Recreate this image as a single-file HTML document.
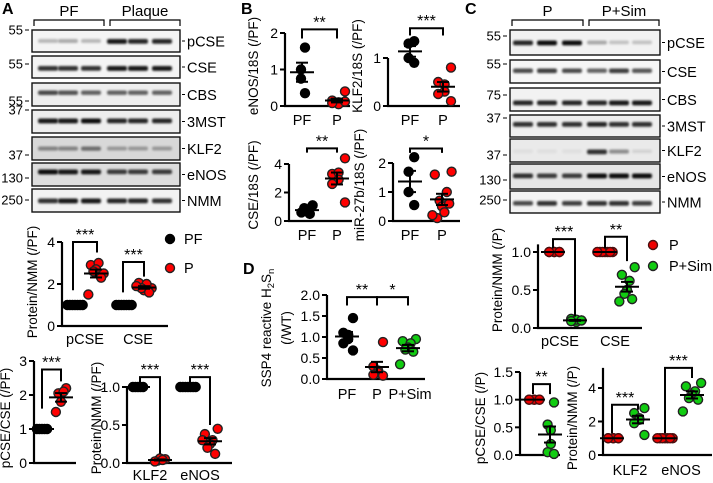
<!DOCTYPE html>
<html><head><meta charset="utf-8"><style>
body{margin:0;background:#fff;}
svg{display:block;font-family:"Liberation Sans",sans-serif;}
</style></head><body>
<svg id="fig" width="713" height="483" viewBox="0 0 713 483" xmlns="http://www.w3.org/2000/svg">
<defs><filter id="blur" x="-20%" y="-50%" width="140%" height="200%"><feGaussianBlur stdDeviation="1.0"/></filter></defs>
</svg>
<script>
// ===== Data =====
const blotRowsA = ['pCSE','CSE','CBS','3MST','KLF2','eNOS','NMM'];
const blotIntA = [[0.25,0.3,0.25,0.9,0.85,0.85],[0.8,0.8,0.8,0.9,0.9,0.9],[0.7,0.65,0.6,0.6,0.6,0.6],[0.9,0.9,0.95,0.85,0.85,0.85],[0.4,0.4,0.5,0.3,0.3,0.3],[0.95,0.9,0.9,0.75,0.75,0.75],[0.8,0.9,0.9,0.85,0.85,0.8]];
const blotRowsC = ['pCSE','CSE','CBS','3MST','KLF2','eNOS','NMM'];
const blotIntC = [[0.85,0.95,0.95,0.3,0.2,0.2],[0.7,0.75,0.7,0.6,0.75,0.65],[0.85,0.85,0.85,0.85,0.9,0.9],[0.8,0.8,0.8,0.85,0.8,0.8],[0.05,0.05,0.05,0.8,0.4,0.1],[0.8,0.75,0.75,0.95,0.95,0.95],[0.7,0.8,0.75,0.8,0.8,0.75]];

const a1Cats = ['pCSE','CSE'];
const a1Ticks = [0,2,4];
const a1PF = [[1,1,1,1,1,1,1],[1,1,1,1,1,1,1]];
const a1P = [[2.5,2.9,3.0,2.7,2.6,2.3,1.5],[1.8,2.05,2.0,1.7,1.8,1.6,1.9]];

const a2Cats = ['PF','P'];
const a2Ticks = [0,1,2,3];
const a2PF = [1,1,1,1,1];
const a2P = [2.2,2.05,1.8,2.1,1.5];

const a3Cats = ['KLF2','eNOS'];
const a3Ticks = [0,0.5,1.0];
const a3TickLabels = ['0.0','0.5','1.0'];
const a3PF = [[1,1,1,1,1],[1,1,1,1,1,1,1]];
const a3P = [[0.05,0.03,0.06,0.04,0.02],[0.45,0.38,0.3,0.25,0.2,0.12,0.3]];

const b1PF = [1.6,1.0,0.75,0.35];
const b1P = [0.4,0.15,0.1,0.05,0.08,0.12];
const b2PF = [1.35,1.3,1.0,0.9];
const b2P = [0.8,0.5,0.45,0.3,0.25,0.1];
const b3PF = [1.1,0.9,0.7,0.5,0.6];
const b3P = [4.4,3.3,3.4,2.9,2.6,1.3];
const b4PF = [2.2,1.7,1.0,0.55];
const b4P = [1.7,1.6,1.0,0.7,0.5,0.3,0.1,0.6,0.2];

const c1Cats = ['pCSE','CSE'];
const c1P = [[1,1,1,1,1,1],[1,1,1,1,1,1,1]];
const c1Sim = [[0.1,0.12,0.08,0.11,0.09,0.1],[0.8,0.7,0.62,0.5,0.45,0.38,0.35]];
const c2P = [1,1,1,1,1,1];
const c2Sim = [0.95,0.55,0.45,0.2,0.05,0.02];
const c3Cats = ['KLF2','eNOS'];
const c3P = [[1,1,1,1,1,1],[1,1,1,1,1,1,1]];
const c3Sim = [[2.8,2.5,2.2,2.1,1.9,1.2],[4.3,4.1,3.8,3.6,3.4,3.3,2.6]];

const dCats = ['PF','P','P+Sim'];
const dPF = [1.45,1.1,1.05,0.95,0.85,0.68];
const dP = [0.88,0.3,0.2,0.15,0.1,0.08];
const dSim = [0.95,0.9,0.85,0.75,0.7,0.65,0.35];

// ===== Helpers =====
const NS='http://www.w3.org/2000/svg';
const svg=document.getElementById('fig');
function mk(tag, attrs, parent){const e=document.createElementNS(NS,tag);for(const k in attrs)e.setAttribute(k,attrs[k]);(parent||svg).appendChild(e);return e;}
function txt(s,x,y,size,anchor,parent,extra){const t=mk('text',Object.assign({x:x,y:y,'font-size':size,'text-anchor':anchor||'middle',fill:'#000'},extra||{}),parent);t.textContent=s;return t;}
const STY={black:['#000','#000'],red:['#f00','#222'],redP:['#e00','#4a1010'],green:['#1c1','#222']};

function chart(c){
  const g=mk('g',{});
  
  
  const y=v=>c.yb-(v-c.ymin)/(c.ymax-c.ymin)*(c.yb-c.yt);
  const top=c.axisTop!==undefined?y(c.axisTop):y(c.ticks[c.ticks.length-1]);
  const ax=mk('line',{x1:c.x0,y1:top,x2:c.x0,y2:c.yb,stroke:'#000','stroke-width':2.2},g);
  
  
  const xa=mk('line',{x1:c.x0-1,y1:c.yb,x2:c.x1,y2:c.yb,stroke:'#000','stroke-width':2.2},g);
  
  
  c.ticks.forEach((t,i)=>{
    mk('line',{x1:c.x0-5,y1:y(t),x2:c.x0,y2:y(t),stroke:'#000','stroke-width':2},g);
    const tl=txt(c.tickLabels?c.tickLabels[i]:String(t),c.x0-7,y(t)+5,14,'end',g);
    
    
  });
  const yl=txt(c.ylabel,0,0,13.5,'middle',g,{transform:`translate(${c.ylx},${c.yly}) rotate(-90)`});
  
  
  c.xlabels.forEach(l=>{
    const xl=txt(l[0],l[1],c.xly,14.5,'middle',g);
    
    
  });
  c.groups.forEach(gr=>{
    const n=gr.vals.length, sty=STY[gr.kind];
    const gg=mk('g',{},g);
    
    
    const sp=gr.spread||3.2;
    gr.vals.forEach((v,i)=>{
      const dx=(i-(n-1)/2)*sp*(i%2?1:-1)*0.8;
      const p=mk('circle',{cx:gr.x+dx,cy:y(v),r:4.5,fill:sty[0],stroke:sty[1],'stroke-width':1.4},gg);
      
      
    });
    const mean=gr.vals.reduce((a,b)=>a+b,0)/n;
    const sd=Math.sqrt(gr.vals.reduce((a,b)=>a+(b-mean)*(b-mean),0)/(n-1));
    const sem=sd/Math.sqrt(n);
    const ml=mk('line',{x1:gr.x-12,y1:y(mean),x2:gr.x+12,y2:y(mean),stroke:'#000','stroke-width':2},gg);
    
    
    if(sem>0){
      mk('line',{x1:gr.x,y1:y(mean-sem),x2:gr.x,y2:y(mean+sem),stroke:'#000','stroke-width':2},gg);
      mk('line',{x1:gr.x-6,y1:y(mean+sem),x2:gr.x+6,y2:y(mean+sem),stroke:'#000','stroke-width':2},gg);
      mk('line',{x1:gr.x-6,y1:y(mean-sem),x2:gr.x+6,y2:y(mean-sem),stroke:'#000','stroke-width':2},gg);
    }
  });
  (c.brackets||[]).forEach(b=>{
    const br=mk('polyline',{points:`${b.xa},${y(b.la)} ${b.xa},${y(b.y)} ${b.xb},${y(b.y)} ${b.xb},${y(b.lb)}`,fill:'none',stroke:'#000','stroke-width':2},g);
    
    
    const st=txt(b.t,(b.xa+b.xb)/2,y(b.y)-2,16,'middle',g);
    
    
  });
}

function blot(b){
  const g=mk('g',{});
  
  
  b.rows.forEach((r,i)=>{
    const [y0,y1,bg]=b.rowY[i];
    const box=mk('rect',{x:b.x0,y:y0,width:b.x1-b.x0,height:y1-y0,fill:bg,stroke:'#111','stroke-width':1.4},g);
    
    
    const bandY=(y0+y1)/2+(b.bandOff?b.bandOff[i]:0);
    b.ints[i].forEach((v,j)=>{
      mk('rect',{x:b.lanes[j]-10,y:bandY-2,width:20,height:3.5+v*1.5,rx:2,fill:'#000','fill-opacity':v,filter:'url(#blur)'},g);
    });
    mk('line',{x1:b.x1+2,y1:(y0+y1)/2,x2:b.x1+5,y2:(y0+y1)/2,stroke:'#000','stroke-width':1},g);
    const l=txt(r,b.x1+7,(y0+y1)/2+5.5,14.5,'start',g);
    
    
  });
  b.mw.forEach(m=>{
    txt(m[0],b.x0-9,m[1]+4.5,13,'end',g);
    mk('line',{x1:b.x0-7,y1:m[1],x2:b.x0-3,y2:m[1],stroke:'#000','stroke-width':1},g);
  });
  b.heads.forEach(h=>{
    mk('polyline',{points:`${h[1]},26 ${h[1]},20 ${h[2]},20 ${h[2]},26`,fill:'none',stroke:'#000','stroke-width':1.2},g);
    txt(h[0],(h[1]+h[2])/2,16,15,'middle',g);
  });
}

// ===== Panel letters =====
[['A',2,14],['B',241,14],['C',465,14],['D',243,274]].forEach(p=>{
  const t=txt(p[0],p[1],p[2],16,'start',null,{'font-weight':'bold'});
  
  
});

// ===== Blots =====
blot({name:'blot-panel-a',x0:32,x1:180,lanes:[48,68,91,117,138,162],rows:blotRowsA,ints:blotIntA,
  rowY:[[30,52,'#f4f4f4'],[56,78,'#f4f4f4'],[83,106,'#eee'],[110,133,'#eee'],[137,160,'#d8d8d8'],[163,186,'#ddd'],[189,212,'#f2f2f2']],
  bandOff:[0,1,-2,-1,0,-3,0],
  mw:[['55',30],['55',64],['55',101],['37',110],['37',155],['130',178],['250',200]],
  heads:[['PF',34,104],['Plaque',110,180]]});
blot({name:'blot-panel-c',x0:510,x1:660,lanes:[523,547,572,597,619,642],rows:blotRowsC,ints:blotIntC,
  rowY:[[30,55,'#f2f2f2'],[60,83,'#f6f6f6'],[88,111,'#f2f2f2'],[115,137,'#eee'],[139,162,'#eaeaea'],[164,189,'#e6e6e6'],[191,213,'#f4f4f4']],
  bandOff:[0,-1,3,-2,1,-1,1],
  mw:[['55',36],['55',64],['75',95],['37',118],['37',155],['130',180],['250',200]],
  heads:[['P',512,583],['P+Sim',589,659]]});

// ===== Charts =====
chart({name:'chart-a-protein',x0:62,x1:168,yb:326,yt:242,ymin:0,ymax:4,ticks:a1Ticks,ylabel:'Protein/NMM (/PF)',ylx:37,yly:282,xly:344,
  xlabels:[[a1Cats[0],85],[a1Cats[1],138]],
  groups:[{vals:a1PF[0],x:75,kind:'black'},{vals:a1P[0],x:96,kind:'red'},{vals:a1PF[1],x:124,kind:'black'},{vals:a1P[1],x:144,kind:'red'}],
  brackets:[{xa:73,xb:97,y:4.0,la:1.7,lb:3.5,t:'***'},{xa:123,xb:144,y:3.05,la:1.6,lb:2.35,t:'***'}]});
chart({name:'chart-a-pcse-cse',x0:34,x1:76,yb:463,yt:361,ymin:0,ymax:3,ticks:a2Ticks,ylabel:'pCSE/CSE (/PF)',ylx:10,yly:418,xly:499,
  xlabels:[],
  groups:[{vals:a2PF,x:42,kind:'black'},{vals:a2P,x:61,kind:'red'}],
  brackets:[{xa:42,xb:61,y:2.75,la:1.6,lb:2.4,t:'***'}]});
chart({name:'chart-a-klf2-enos',x0:127,x1:232,yb:463,yt:387,ymin:0,ymax:1,ticks:a3Ticks,tickLabels:a3TickLabels,ylabel:'Protein/NMM (/PF)',ylx:101,yly:418,xly:480,
  xlabels:[[a3Cats[0],150],[a3Cats[1],200]],
  groups:[{vals:a3PF[0],x:138,kind:'black'},{vals:a3P[0],x:160,kind:'red'},{vals:a3PF[1],x:188,kind:'black'},{vals:a3P[1],x:210,kind:'red'}],
  brackets:[{xa:140,xb:160,y:1.13,la:1.05,lb:0.12,t:'***'},{xa:190,xb:210,y:1.13,la:1.05,lb:0.5,t:'***'}]});

chart({name:'chart-b-enos',x0:285,x1:350,yb:106,yt:33,ymin:0,ymax:2,ticks:[0,1,2],ylabel:'eNOS/18S (/PF)',ylx:258,yly:66,xly:125,
  xlabels:[['PF',302],['P',337]],
  groups:[{vals:b1PF,x:302,kind:'black',spread:2.5},{vals:b1P,x:337,kind:'red',spread:4}],
  brackets:[{xa:302,xb:337,y:2.1,la:1.85,lb:1.85,t:'**'}]});
chart({name:'chart-b-klf2',x0:388,x1:460,yb:106,yt:58,ymin:0,ymax:1,ticks:[0,1],ylabel:'KLF2/18S (/PF)',ylx:362,yly:66,xly:125,
  xlabels:[['PF',410],['P',443]],
  groups:[{vals:b2PF,x:410,kind:'black',spread:3.5},{vals:b2P,x:443,kind:'red',spread:4}],
  brackets:[{xa:410,xb:443,y:1.62,la:1.47,lb:1.47,t:'***'}]});
chart({name:'chart-b-cse',x0:289,x1:352,yb:221,yt:164,ymin:0,ymax:4,ticks:[0,2,4],ylabel:'CSE/18S (/PF)',ylx:258,yly:185,xly:240,
  xlabels:[['PF',307],['P',337]],
  groups:[{vals:b3PF,x:307,kind:'black',spread:3.5},{vals:b3P,x:337,kind:'red',spread:4}],
  brackets:[{xa:307,xb:337,y:5.1,la:4.8,lb:4.8,t:'**'}]});
chart({name:'chart-b-mir27b',x0:393,x1:460,yb:221,yt:163,ymin:0,ymax:2,ticks:[0,1,2],ylabel:'miR-27b/18S (/PF)',ylx:364,yly:185,xly:240,
  xlabels:[['PF',410],['P',442]],
  groups:[{vals:b4PF,x:410,kind:'black',spread:3.5},{vals:b4P,x:442,kind:'red',spread:3}],
  brackets:[{xa:410,xb:442,y:2.5,la:2.35,lb:2.35,t:'*'}]});

chart({name:'chart-c-protein',x0:538,x1:642,yb:328,yt:252,ymin:0,ymax:1,ticks:[0,0.5,1.0],tickLabels:['0.0','0.5','1.0'],axisTop:1.1,ylabel:'Protein/NMM (/P)',ylx:502,yly:280,xly:346,
  xlabels:[[c1Cats[0],560],[c1Cats[1],615]],
  groups:[{vals:c1P[0],x:553,kind:'redP'},{vals:c1Sim[0],x:575,kind:'green'},{vals:c1P[1],x:605,kind:'redP'},{vals:c1Sim[1],x:627,kind:'green'}],
  brackets:[{xa:553,xb:575,y:1.17,la:1.05,lb:0.15,t:'***'},{xa:605,xb:627,y:1.2,la:1.05,lb:0.88,t:'**'}]});
chart({name:'chart-c-pcse-cse',x0:520,x1:560,yb:455,yt:372,ymin:0,ymax:1.5,ticks:[0,0.5,1.0,1.5],tickLabels:['0.0','0.5','1.0','1.5'],ylabel:'pCSE/CSE (/P)',ylx:485,yly:418,xly:499,
  xlabels:[],
  groups:[{vals:c2P,x:533,kind:'redP'},{vals:c2Sim,x:550,kind:'green',spread:2}],
  brackets:[{xa:533,xb:550,y:1.28,la:1.1,lb:1.1,t:'**'}]});
chart({name:'chart-c-klf2-enos',x0:603,x1:712,yb:455,yt:388,ymin:0,ymax:4,ticks:[0,2,4],axisTop:5.2,ylabel:'Protein/NMM (/P)',ylx:577,yly:418,xly:475,
  xlabels:[[c3Cats[0],630],[c3Cats[1],681]],
  groups:[{vals:c3P[0],x:612,kind:'redP'},{vals:c3Sim[0],x:638,kind:'green'},{vals:c3P[1],x:665,kind:'redP'},{vals:c3Sim[1],x:692,kind:'green',spread:3.8}],
  brackets:[{xa:612,xb:638,y:3.0,la:1.3,lb:2.7,t:'***'},{xa:665,xb:692,y:5.2,la:1.3,lb:4.6,t:'***'}]});

chart({name:'chart-d-h2sn',x0:327,x1:425,yb:379,yt:295,ymin:0,ymax:2,ticks:[0,0.5,1.0,1.5,2.0],tickLabels:['0.0','0.5','1.0','1.5','2.0'],ylabel:'',ylx:0,yly:0,xly:399,
  xlabels:[['PF',347],['P',377],['P+Sim',410]],
  groups:[{vals:dPF,x:347,kind:'black',spread:3},{vals:dP,x:377,kind:'red',spread:3},{vals:dSim,x:408,kind:'green',spread:3.3}],
  brackets:[{xa:347,xb:377,y:1.95,la:1.75,lb:1.75,t:'**'},{xa:377,xb:408,y:1.95,la:1.75,lb:1.75,t:'*'}]});
// D y-axis title (with sub-scripts)
const dyl=mk('text',{transform:'translate(271,328) rotate(-90)','font-size':13.5,'text-anchor':'middle'});


dyl.innerHTML='SSP4 reactive H<tspan font-size="9.5" dy="3">2</tspan><tspan dy="-3">S</tspan><tspan font-size="9.5" dy="3">n</tspan>';
const dyl2=txt('(/WT)',0,0,13.5,'middle',null,{transform:'translate(291,328) rotate(-90)'});



// ===== Legends =====
[[170,239,'#000','#000','PF',184],[170,268,'#f00','#222','P',184],[653,245,'#e00','#4a1010','P',669],[653,266,'#1c1','#222','P+Sim',669]].forEach(l=>{
  const lg=mk('g',{});
  
  
  mk('circle',{cx:l[0],cy:l[1],r:4.5,fill:l[2],stroke:l[3],'stroke-width':1.4},lg);
  txt(l[4],l[5],l[1]+5,14.5,'start',lg);
});
</script>
</body></html>
